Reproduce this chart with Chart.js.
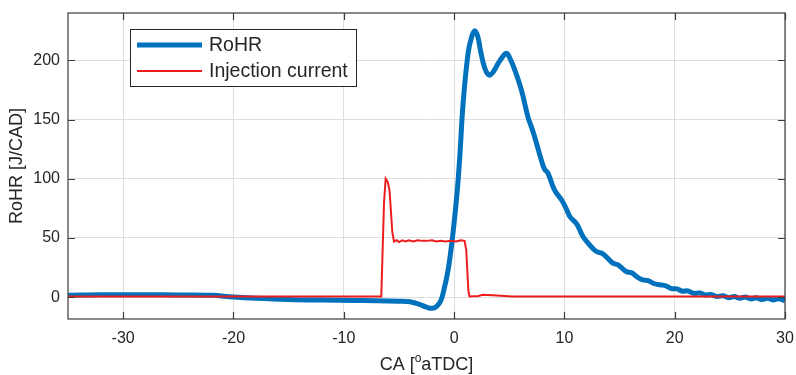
<!DOCTYPE html>
<html>
<head>
<meta charset="utf-8">
<script src="https://cdn.jsdelivr.net/npm/chart.js@4/dist/chart.umd.min.js"></script>
<style>
  html, body { margin: 0; padding: 0; background: #fff; }
  #wrap { width: 796px; height: 375px; }
</style>
</head>
<body>
<div id="wrap"><canvas id="rohrChart" width="796" height="375"></canvas></div>
<script>
// crank angle [deg aTDC] and rate of heat release [J/CAD]
const caRohr = [-35, -32, -28, -25, -22, -20, -18, -15, -12, -9, -7, -5, -4, -3.2, -2.5, -2, -1.6, -1.2,
  -0.85, -0.6, -0.4, -0.1, 0.27, 0.5, 0.82, 1.27, 1.6, 1.88, 2.15, 2.4, 2.8, 3.2, 3.6, 4.0, 4.4, 4.75,
  5.1, 5.5, 6.1, 6.7, 7.0, 7.3, 7.9, 8.2, 8.5, 9.1, 9.75, 10.2, 10.5, 11.1, 11.7, 12.3, 12.9, 13.4,
  13.8, 14.4, 14.9, 15.6, 16.1, 16.6, 17.1, 17.6, 18.1, 18.7, 19.2, 19.7, 20.2, 20.7, 21.2, 21.7,
  22.3, 22.8, 23.3, 23.8, 24.4, 24.9, 25.4, 25.9, 26.4, 26.9, 27.4, 27.9, 28.4, 28.9, 29.4, 30];
const rohr = [1.5, 2, 2, 1.8, 1.5, 0, -1, -2, -2.5, -2.8, -3, -3.5, -4, -6, -8.5, -9.5, -8, -3,
  9, 20, 31.5, 54, 88, 116, 164, 206, 220, 225, 220, 208, 193, 187.5, 191, 197.5, 203, 206,
  201, 192, 175, 152, 144, 135.5, 116, 108, 105, 90.5, 82, 74, 68, 62, 51, 44, 38.5, 37,
  34, 28.7, 27, 21.6, 20.5, 17, 14.6, 14, 11.5, 10.4, 9.5, 7.2, 7, 5, 5.2, 3.2,
  3.4, 1.8, 2.2, 0.6, 1.1, -0.5, 0.5, -1, 0, -1.5, -0.6, -2, -1, -2.4, -1.4, -3];

const caInj = [-35, -6.6, -6.35, -6.2, -6.0, -5.85, -5.6, -5.45, -5.2, -5.0, -4.7, -4.4, -4.1, -3.7,
  -3.3, -2.9, -2.5, -2.0, -1.6, -1.2, -0.8, -0.3, 0.2, 0.6, 0.95, 1.1, 1.3, 1.4, 2.2, 2.6, 3.5, 5.3, 30];
const injCurrent = [0.5, 0.5, 80, 100, 97, 90, 55, 47, 48, 46.5, 48, 47, 48, 47,
  48, 47.5, 47.5, 48, 47, 47.5, 47, 47.5, 47, 48, 47.5, 40, 5, 0.5, 1, 2, 1.5, 0.5, 0.5];

const seriesNames = ['RoHR', 'Injection current'];
const xTicks = [-30, -20, -10, 0, 10, 20, 30];
const yTicks = [0, 50, 100, 150, 200];

const FONT = "'Liberation Sans', Arial, sans-serif";
const TXT = '#262626';
const BLUE = '#0072BD';
const RED = '#ee1d1d';

function toPoints(xs, ys) {
  return xs.map((x, i) => ({ x: x, y: ys[i] }));
}

// box, inward ticks, legend and axis titles like the matlab figure
const matlabLook = {
  id: 'matlabLook',
  afterDatasetsDraw(chart) {
    const ctx = chart.ctx;
    const a = chart.chartArea;
    const xs = chart.scales.x, ys = chart.scales.y;
    ctx.save();
    ctx.strokeStyle = '#3c3c3c';
    ctx.lineWidth = 1.2;
    ctx.beginPath();
    xTicks.forEach((t) => {
      const px = Math.round(xs.getPixelForValue(t)) + 0.5;
      ctx.moveTo(px, a.bottom); ctx.lineTo(px, a.bottom - 7);
      ctx.moveTo(px, a.top); ctx.lineTo(px, a.top + 7);
    });
    yTicks.forEach((t) => {
      const py = Math.round(ys.getPixelForValue(t)) + 0.5;
      ctx.moveTo(a.left, py); ctx.lineTo(a.left + 7, py);
      ctx.moveTo(a.right, py); ctx.lineTo(a.right - 7, py);
    });
    ctx.stroke();
    ctx.strokeRect(a.left, a.top, a.right - a.left, a.bottom - a.top);

    // legend
    const lx = a.left + 62, ly = a.top + 16, lw = 226, lh = 57;
    ctx.fillStyle = '#fff';
    ctx.fillRect(lx, ly, lw, lh);
    ctx.strokeStyle = '#262626';
    ctx.lineWidth = 1;
    ctx.strokeRect(lx + 0.5, ly + 0.5, lw, lh);
    const ds = chart.data.datasets;
    [16, 42].forEach((dy, i) => {
      ctx.strokeStyle = ds[i].borderColor;
      ctx.lineWidth = ds[i].borderWidth;
      ctx.beginPath();
      ctx.moveTo(lx + 7, ly + dy); ctx.lineTo(lx + 72, ly + dy);
      ctx.stroke();
      ctx.fillStyle = TXT;
      ctx.font = '19.5px ' + FONT;
      ctx.textBaseline = 'middle';
      ctx.fillText(seriesNames[i], lx + 79, ly + dy + 1);
    });

    // y title
    ctx.fillStyle = TXT;
    ctx.font = '18px ' + FONT;
    ctx.textAlign = 'center';
    ctx.textBaseline = 'middle';
    ctx.save();
    ctx.translate(17.5, (a.top + a.bottom) / 2);
    ctx.rotate(-Math.PI / 2);
    ctx.fillText('RoHR [J/CAD]', 0, 0);
    ctx.restore();

    // x title with superscript o
    const parts = ['CA [', 'o', 'aTDC]'];
    ctx.textAlign = 'left';
    ctx.font = '18px ' + FONT;
    const w0 = ctx.measureText(parts[0]).width;
    const w2 = ctx.measureText(parts[2]).width;
    ctx.font = '12px ' + FONT;
    const w1 = ctx.measureText(parts[1]).width;
    let x0 = (a.left + a.right) / 2 - (w0 + w1 + w2) / 2;
    const yb = 365;
    ctx.font = '18px ' + FONT;
    ctx.fillText(parts[0], x0, yb);
    ctx.font = '12px ' + FONT;
    ctx.fillText(parts[1], x0 + w0, yb - 6);
    ctx.font = '18px ' + FONT;
    ctx.fillText(parts[2], x0 + w0 + w1, yb);
    ctx.restore();
  }
};

new Chart(document.getElementById('rohrChart'), {
  type: 'scatter',
  data: {
    datasets: [{
      label: seriesNames[0],
      data: toPoints(caRohr, rohr),
      showLine: true,
      borderColor: BLUE,
      backgroundColor: BLUE,
      borderWidth: 5,
      pointRadius: 0,
      tension: 0.4,
      order: 1,
    }, {
      label: seriesNames[1],
      data: toPoints(caInj, injCurrent),
      showLine: true,
      borderColor: RED,
      backgroundColor: RED,
      borderWidth: 2,
      pointRadius: 0,
      tension: 0,
      order: 0,
    }],
  },
  options: {
    responsive: false,
    animation: false,
    devicePixelRatio: 1,
    layout: { padding: { top: 13, right: 11, left: 0, bottom: 0 } },
    plugins: { legend: { display: false }, tooltip: { enabled: false } },
    scales: {
      x: {
        type: 'linear', min: -35, max: 30,
        afterBuildTicks: (s) => { s.ticks = xTicks.map((v) => ({ value: v })); },
        afterFit: (s) => { s.height = 56; s.paddingLeft = 0; s.paddingRight = 0; },
        border: { display: false },
        grid: { color: '#dedede', lineWidth: 1, drawTicks: false },
        ticks: { color: TXT, font: { family: FONT, size: 16 }, padding: 10, maxRotation: 0 },
      },
      y: {
        type: 'linear', min: -18.5, max: 240,
        afterBuildTicks: (s) => { s.ticks = yTicks.map((v) => ({ value: v })); },
        afterFit: (s) => { s.width = 68; s.paddingTop = 0; s.paddingBottom = 0; },
        border: { display: false },
        grid: { color: '#dedede', lineWidth: 1, drawTicks: false },
        ticks: { color: TXT, font: { family: FONT, size: 16 }, padding: 8 },
      },
    },
  },
  plugins: [matlabLook],
});
</script>
</body>
</html>
